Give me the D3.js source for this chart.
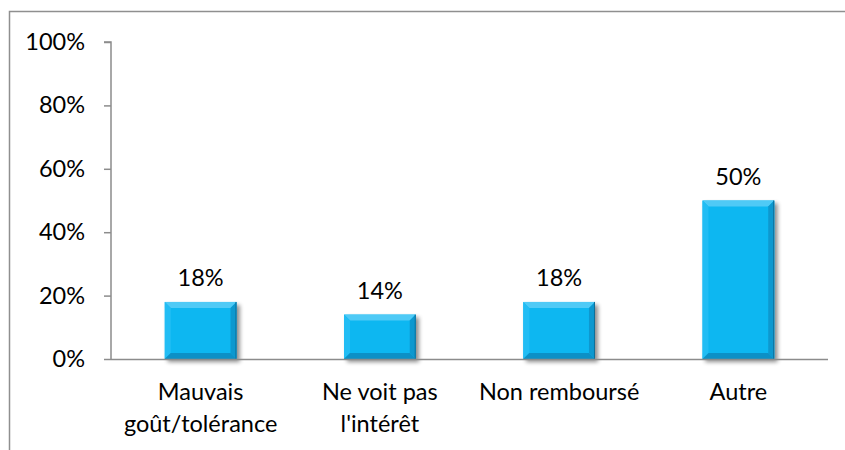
<!DOCTYPE html>
<html><head><meta charset="utf-8">
<script src="https://cdn.jsdelivr.net/npm/d3@7"></script>
<style>body{margin:0;background:#fff}svg{display:block}text{font-family:Lato,"Noto Sans",sans-serif;fill:#000}</style>
</head><body><svg id="c" width="845" height="450"></svg>
<script>
const categories = [["Mauvais","goût/tolérance"],["Ne voit pas","l'intérêt"],["Non remboursé"],["Autre"]];
const values = [18, 14, 18, 50];
const yTicks = [0, 20, 40, 60, 80, 100];

const svg = d3.select("#c");
const FS = 23.5;
const x = d3.scaleBand().domain(d3.range(values.length)).range([111, 828]).paddingInner(0.6).paddingOuter(0.3);
const y = d3.scaleLinear().domain([0, 100]).range([359, 42]);

// outer frame
svg.append("path").attr("d","M9.5,450 L9.5,11.5 L845,11.5").attr("fill","none").attr("stroke","#8f8f8f").attr("stroke-width",1.5);

const defs = svg.append("defs");
const f = defs.append("filter").attr("id","sh").attr("x","-20%").attr("y","-20%").attr("width","150%").attr("height","150%");
f.append("feGaussianBlur").attr("in","SourceAlpha").attr("stdDeviation",2.2);
f.append("feOffset").attr("dx",3).attr("dy",3).attr("result","b");
f.append("feComponentTransfer").append("feFuncA").attr("type","linear").attr("slope",0.45);
const m = f.append("feMerge"); m.append("feMergeNode"); m.append("feMergeNode").attr("in","SourceGraphic");

// y axis
const ya = svg.append("g").attr("transform","translate(111,0)")
  .call(d3.axisLeft(y).tickValues(yTicks).tickFormat(d=>d+"%").tickSize(7).tickPadding(19));
ya.selectAll("line,path").attr("stroke","#8c8c8c").attr("stroke-width",1.5);
ya.select(".domain").attr("d","M-7,"+y(100)+"H0V"+y(0));
ya.selectAll("text").attr("font-size",FS).attr("font-family","Lato").attr("fill","#000");

// bars
const bw = x.bandwidth(), b = 6;
const g = svg.append("g");
values.forEach((v,i)=>{
  const x0 = x(i), x1 = x0 + bw, y0 = y(v), y1 = y(0);
  const bg = g.append("g").attr("filter","url(#sh)");
  bg.append("rect").attr("x",x0).attr("y",y0).attr("width",bw).attr("height",y1-y0).attr("fill","#0fb7f1");
  bg.append("polygon").attr("points",[[x0,y0],[x1,y0],[x1-b,y0+b],[x0+b,y0+b]].join(" ")).attr("fill","#4fcaf6");
  bg.append("polygon").attr("points",[[x0,y0],[x0+b,y0+b],[x0+b,y1-b],[x0,y1]].join(" ")).attr("fill","#22bdf4");
  bg.append("polygon").attr("points",[[x1,y0],[x1,y1],[x1-b,y1-b],[x1-b,y0+b]].join(" ")).attr("fill","#0898cf");
  bg.append("polygon").attr("points",[[x0,y1],[x1,y1],[x1-b,y1-b],[x0+b,y1-b]].join(" ")).attr("fill","#0790c6");
  bg.append("line").attr("x1",x1-0.5).attr("x2",x1-0.5).attr("y1",y0).attr("y2",y1).attr("stroke","#0a6f99").attr("stroke-width",1);
  svg.append("text").attr("x",x0+bw/2).attr("y",y0-16).attr("text-anchor","middle").attr("font-size",FS).text(v+"%");
});

// x axis
svg.append("line").attr("x1",111).attr("x2",828).attr("y1",y(0)+0.5).attr("y2",y(0)+0.5).attr("stroke","#8c8c8c").attr("stroke-width",1.5);

// category labels
categories.forEach((lines,i)=>{
  const t = svg.append("text").attr("text-anchor","middle").attr("font-size",FS);
  lines.forEach((l,j)=>t.append("tspan").attr("x",x(i)+bw/2).attr("y",400+j*32).text(l));
});
</script></body></html>
